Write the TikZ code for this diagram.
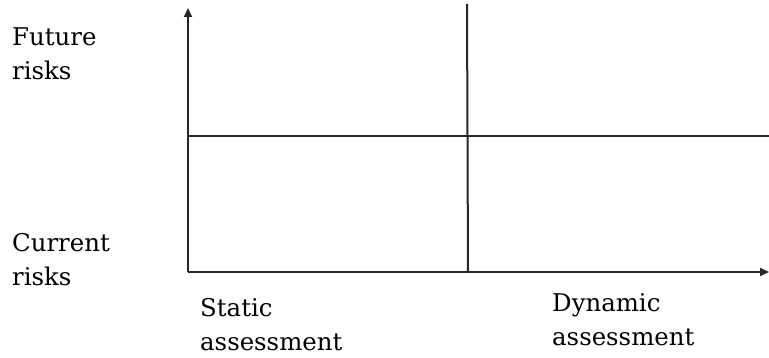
\documentclass[tikz,border=0pt]{standalone}
\usepackage{fontspec}
\setmainfont{DejaVu Serif}
\usetikzlibrary{arrows.meta}
\begin{document}
\begin{tikzpicture}[x=1pt,y=-1pt,
  axis/.style={line width=2pt,draw=black!85,-{Triangle[length=9pt,width=8pt]}},
  grid/.style={line width=2pt,draw=black!85},
  lbl/.style={anchor=base west,inner sep=0pt,align=left,font=\fontsize{24.4}{34}\selectfont}]
\useasboundingbox (0,0) rectangle (769,358);
\coordinate (o) at (188,272);
\coordinate (ytop) at (188,8);
\coordinate (xend) at (769,272);
\coordinate (ml) at (188,136);
\coordinate (mr) at (769,136);
\coordinate (vt) at (467,4);
\coordinate (vb) at (468,272);
\draw[axis] (o) -- (ytop);
\draw[axis] (o) -- (xend);
\draw[grid] (ml) -- (mr);
\draw[grid] (vt) -- (vb);
\node[lbl] (fut) at (12,80) {Future\\risks};
\node[lbl] (cur) at (12,286) {Current\\risks};
\node[lbl] (sta) at (200,350) {Static\\assessment};
\node[lbl] (dyn) at (552,345) {Dynamic\\assessment};
\end{tikzpicture}
\end{document}
